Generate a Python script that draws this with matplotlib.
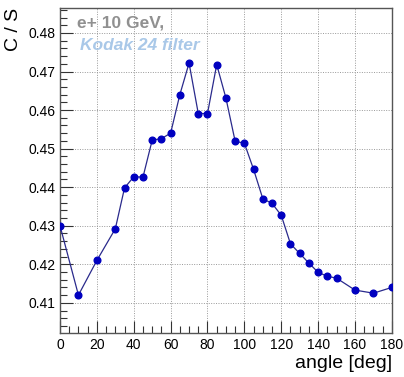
#!/usr/bin/env python3

import matplotlib
matplotlib.use("Agg")
import matplotlib.pyplot as plt
from matplotlib.ticker import MultipleLocator

angle = [0, 10, 20, 30, 35, 40, 45, 50, 55, 60, 65, 70, 75, 80, 85, 90,
         95, 100, 105, 110, 115, 120, 125, 130, 135, 140, 145, 150, 160,
         170, 180]
c_over_s = [0.4300, 0.4120, 0.4210, 0.4292, 0.4398, 0.4427, 0.4426,
            0.4522, 0.4526, 0.4540, 0.4640, 0.4722, 0.4591, 0.4591,
            0.4718, 0.4631, 0.4519, 0.4514, 0.4446, 0.4370, 0.4358,
            0.4327, 0.4253, 0.4228, 0.4203, 0.4179, 0.4169, 0.4164,
            0.4133, 0.4125, 0.4140]


def main():
    plt.rcParams["font.family"] = ["Liberation Sans", "DejaVu Sans"]

    fig = plt.figure(figsize=(4.04, 3.77), dpi=100)
    ax = fig.add_axes([0.1485, 0.117, 0.8215, 0.862])

    ax.plot(angle, c_over_s, color="#2a2a8c", lw=0.9, marker="o",
            markersize=4.8, markerfacecolor="#0000c0",
            markeredgecolor="#0000c0", zorder=3)

    ax.set_xlim(0, 180)
    ax.set_ylim(0.4022, 0.4865)

    ax.xaxis.set_major_locator(MultipleLocator(20))
    ax.xaxis.set_minor_locator(MultipleLocator(5))
    ax.yaxis.set_major_locator(MultipleLocator(0.01))
    ax.yaxis.set_minor_locator(MultipleLocator(0.002))
    ax.yaxis.set_major_formatter(plt.FuncFormatter(lambda v, _: f"{v:.2f}"))

    ax.tick_params(which="both", direction="in", top=False, right=False,
                   labelsize=10, color="#333333")
    ax.tick_params(which="major", length=9, width=0.8)
    ax.tick_params(which="minor", length=5, width=0.8)
    ax.tick_params(axis="x", pad=4)

    ax.grid(True, which="major", linestyle=(0, (1, 1.5)), color="#999999",
            lw=0.7)
    ax.set_axisbelow(True)

    for sp in ax.spines.values():
        sp.set_color("#555555")
        sp.set_linewidth(1.0)

    ax.set_xlabel("angle [deg]", fontsize=14, loc="right", labelpad=2)
    ax.set_ylabel("C / S", fontsize=14, loc="top", labelpad=4)

    ax.text(0.05, 0.955, "e+ 10 GeV,", transform=ax.transAxes,
            fontsize=12.5, fontweight="bold", color="#909090", va="center")
    ax.text(0.06, 0.885, "Kodak 24 filter", transform=ax.transAxes,
            fontsize=12.5, fontweight="bold", style="italic",
            color="#a9c8e8", va="center")

    fig.savefig("out.png", dpi=100)


if __name__ == "__main__":
    main()
